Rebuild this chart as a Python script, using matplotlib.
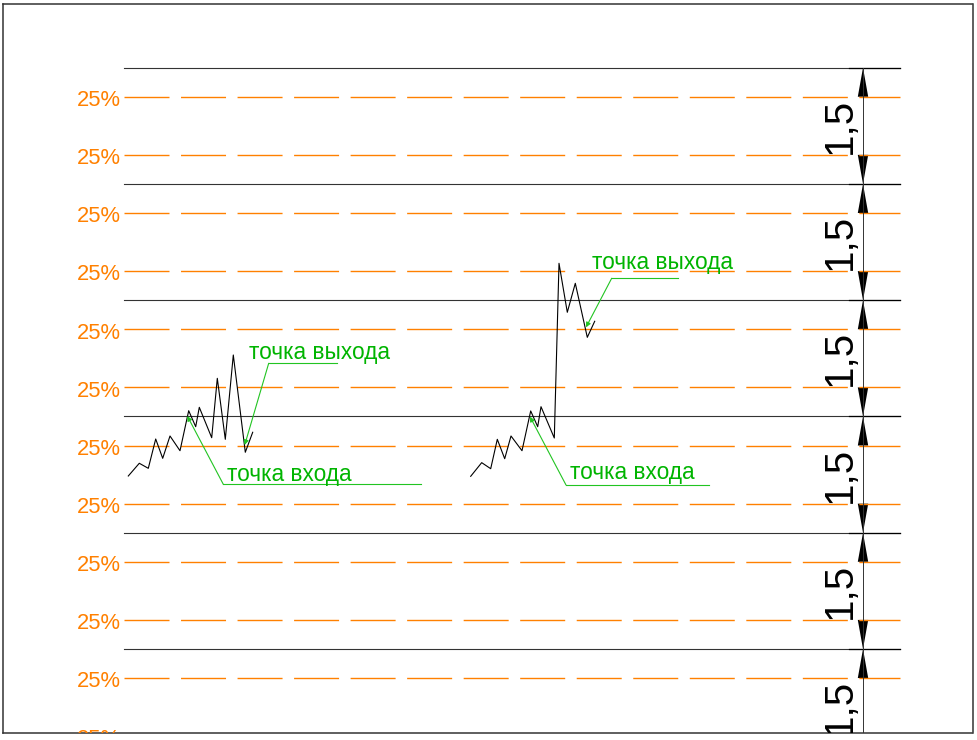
import matplotlib
matplotlib.use('Agg')
import matplotlib.pyplot as plt
from matplotlib import font_manager

plt.rcParams['lines.scale_dashes'] = False
plt.rcParams['font.family'] = ['Liberation Sans', 'DejaVu Sans']

# уровни сетки (шаг 1,5), отметки 25% внутри каждой полосы
band = 1.5
black_levels = [7.5, 6.0, 4.5, 3.0, 1.5, 0.0]
orange_levels = [7.125, 6.375, 5.625, 4.875, 4.125, 3.375, 2.625, 1.875, 1.125, 0.375, -0.375, -1.125]
orange_labels = ['25%'] * len(orange_levels)
dim_text = '1,5'

# ценовой график: слева - обычный выход, справа - выход после скачка
left_x = [128.3, 139.3, 148.3, 155.7, 162.7, 170.0, 180.0, 188.7, 195.7, 199.3, 211.7,
          217.3, 225.3, 233.3, 245.3, 252.7]
left_y = [2.232, 2.396, 2.331, 2.709, 2.460, 2.748, 2.558, 3.074, 2.868, 3.118, 2.726,
          3.492, 2.705, 3.793, 2.538, 2.796]
right_x = [470.7, 481.7, 490.7, 497.3, 504.7, 511.0, 522.0, 530.7, 537.7, 541.0, 554.3,
           559.0, 567.3, 575.3, 587.3, 594.7]
right_y = [2.228, 2.404, 2.326, 2.705, 2.455, 2.748, 2.558, 3.071, 2.868, 3.126, 2.722,
           4.976, 4.344, 4.718, 4.021, 4.228]

# выноски: (острие, излом, конец полки, позиция текста)
notes = [
    ('точка входа', (187.3, 3.006), (223.3, 2.125), 421.0, (227.5, 2.167)),
    ('точка выхода', (244.7, 2.632), (268.7, 3.686), 336.7, (249.0, 3.735)),
    ('точка входа', (530.0, 2.997), (566.0, 2.116), 709.3, (570.0, 2.187)),
    ('точка выхода', (586.0, 4.150), (611.7, 4.783), 678.3, (591.7, 4.903)),
]

orange = '#ff8000'
green = '#00b400'
grid_x0, grid_x1 = 124, 900
dim_x = 863

names = {f.name for f in font_manager.fontManager.ttflist}
if 'Liberation Sans Narrow' in names:
    green_font, green_size = 'Liberation Sans Narrow', 18.7
else:
    green_font, green_size = 'Liberation Sans', 16.3

fig = plt.figure(figsize=(9.78, 7.40), dpi=100)
ax = fig.add_axes([3.5 / 978, 7 / 740, 969 / 978, 729.5 / 740])
ax.set_xlim(3.5, 972.5)
ax.set_ylim(-1.084, 8.328)
ax.set_xticks([])
ax.set_yticks([])
for s in ax.spines.values():
    s.set_color('#333333')
    s.set_linewidth(1.1)

for lv in black_levels:
    ax.plot([grid_x0, grid_x1], [lv, lv], color='#333333', lw=0.8)
    ax.plot([849, grid_x1], [lv, lv], color='black', lw=0.9)

for lv, lab in zip(orange_levels, orange_labels):
    ax.plot([grid_x0, grid_x1], [lv, lv], color=orange, lw=1.0,
            dashes=(32.4, 8.3), solid_capstyle='butt')
    ax.text(121, lv - 0.12, lab, color=orange, fontsize=15.8, ha='right', va='baseline',
            clip_on=True)

# размерная цепочка справа
ax.plot([dim_x, dim_x], [black_levels[0], black_levels[-1] - band], color='#333333', lw=0.7)
hw = 5.2
for top in black_levels:
    bottom = top - band
    q = band / 4
    ax.fill([dim_x, dim_x - hw, dim_x + hw], [top, top - q, top - q], color='black', lw=0)
    ax.fill([dim_x, dim_x - hw, dim_x + hw], [bottom, bottom + q, bottom + q], color='black', lw=0)
    ax.text(851, (top + bottom) / 2, dim_text, rotation=90, rotation_mode='anchor',
            ha='center', va='baseline', fontsize=29, color='black', clip_on=True)

ax.plot(left_x, left_y, color='black', lw=0.8)
ax.plot(right_x, right_y, color='black', lw=0.8)

for txt, tip, knee, end_x, pos in notes:
    ax.annotate('', xy=tip, xytext=knee,
                arrowprops=dict(arrowstyle='-|>', color='#22c422', lw=0.8,
                                mutation_scale=7, shrinkA=0, shrinkB=0))
    ax.plot([knee[0], end_x], [knee[1], knee[1]], color='#22c422', lw=0.8)
    ax.text(pos[0], pos[1], txt, color=green, fontsize=green_size,
            family=green_font, ha='left', va='baseline')

fig.savefig('out.png', dpi=100, facecolor='white')
